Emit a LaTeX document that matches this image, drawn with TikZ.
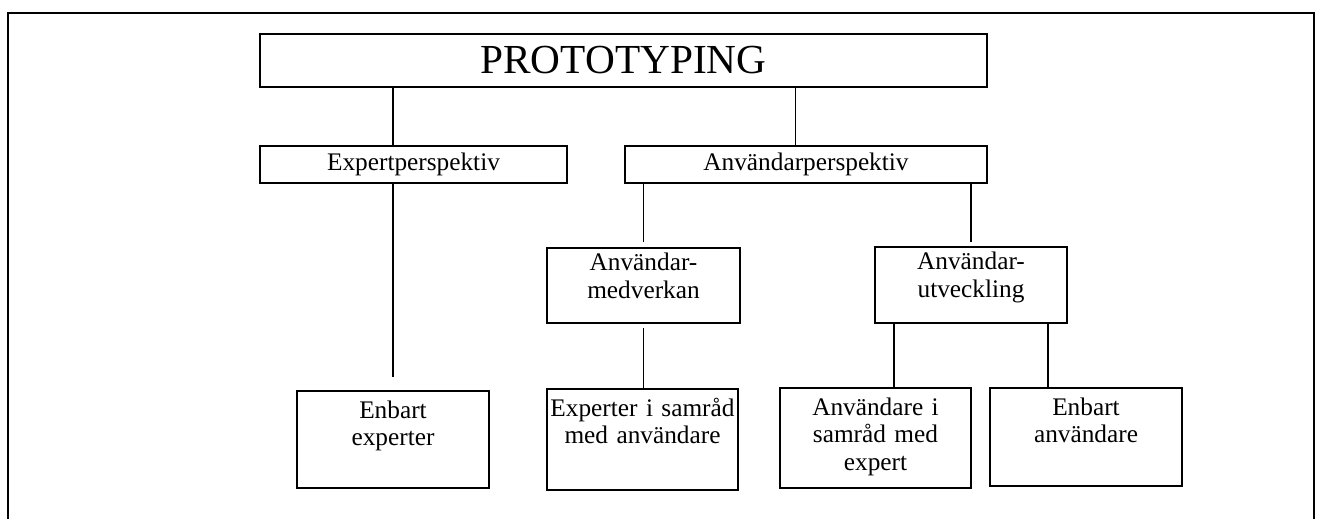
\documentclass[tikz,border=0pt]{standalone}
\usepackage{fontspec}
\setmainfont{Liberation Serif}
\usepackage{tikz}
\usetikzlibrary{positioning,calc}

\tikzset{
  box/.style={draw,line width=1.2pt,inner sep=0pt,align=center},
  tallbox/.style={box,text width=#1,text height=0.54cm},
  midbox/.style={box,text width=#1,text height=0.45cm},
  link/.style={line width=0.8pt}
}

\begin{document}
\begin{tikzpicture}[every node/.style={font=\fontsize{14.4}{15.8}\selectfont}]
  \useasboundingbox (0,0) rectangle (26.44,-10.36);
  % outer frame, open at the bottom
  \draw[line width=1pt] (0.16,-10.6) -- (0.16,-0.26) -- (26.28,-0.26) -- (26.28,-10.6);

  \node[box,minimum width=14.54cm,minimum height=1.06cm,
        font=\fontsize{23.5}{28}\selectfont] (proto) at (12.47,-1.21) {PROTOTYPING};
  \node[box,minimum width=6.14cm,minimum height=0.74cm] (expert) at (8.27,-3.29) {Expertperspektiv};
  \node[box,minimum width=7.24cm,minimum height=0.74cm] (anv) at (16.12,-3.29) {Användarperspektiv};

  \node[midbox=3.8cm,minimum width=3.86cm,text depth=1.05cm] (medv) at (12.87,-5.71) {Användar-\\medverkan};
  \node[midbox=3.8cm,minimum width=3.84cm,text depth=1.07cm] (utv) at (19.42,-5.70) {Användar-\\utveckling};

  \node[tallbox=3.8cm,minimum width=3.84cm,text depth=1.40cm] (enbexp) at (7.86,-8.79) {Enbart\\experter};
  \node[tallbox=3.8cm,minimum width=3.82cm,text depth=1.48cm] (expsam) at (12.85,-8.79) {Experter i samråd\\med användare};
  \node[tallbox=3.8cm,minimum width=3.82cm,text depth=1.46cm] (anvsam) at (17.51,-8.76) {Användare i\\samråd med\\expert};
  \node[tallbox=3.8cm,minimum width=3.84cm,text depth=1.42cm] (enbanv) at (21.72,-8.74) {Enbart\\användare};

  \draw[link] (proto.south -| enbexp.north) -- (expert.north -| enbexp.north);
  \draw[link] (proto.south -| 15.91,0) -- (anv.north -| 15.91,0);
  \draw[link,shorten >=0.26cm] (expert.south -| enbexp.north) -- (enbexp.north);
  \draw[link,shorten >=0.1cm] (anv.south -| medv.north) -- (medv.north);
  \draw[link,shorten >=0.08cm] (anv.south -| utv.north) -- (utv.north);
  \draw[link,shorten <=0.08cm] (medv.south) -- (medv.south |- expsam.north);
  \draw[link] (utv.south -| 17.88,0) -- (anvsam.north -| 17.88,0);
  \draw[link] (utv.south -| 20.96,0) -- (enbanv.north -| 20.96,0);
\end{tikzpicture}
\end{document}
